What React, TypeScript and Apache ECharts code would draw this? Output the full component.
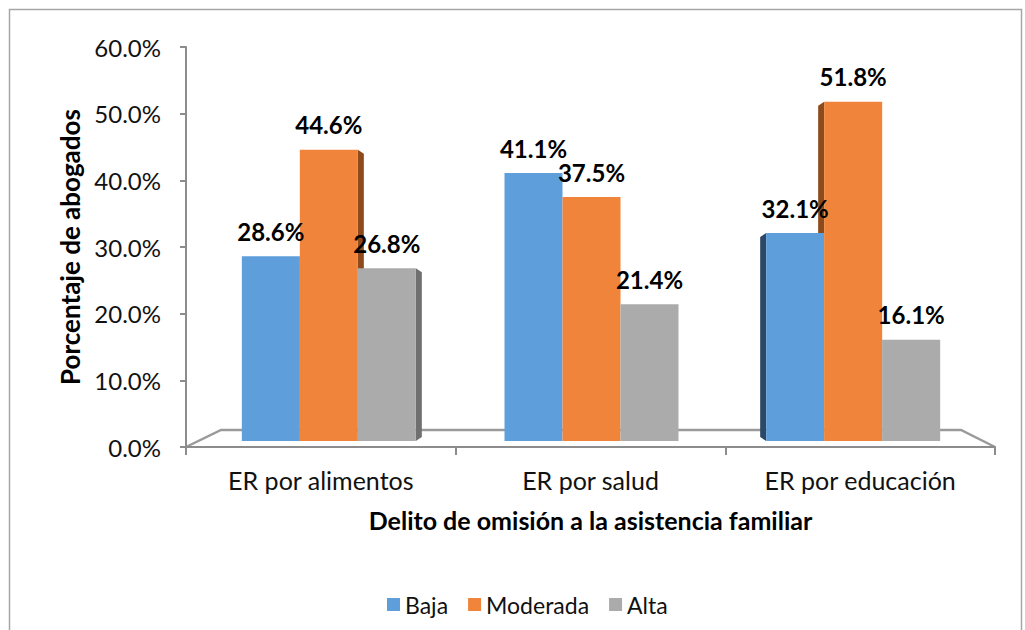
import React, { useEffect, useRef } from "react";
import * as echarts from "echarts";

const categories = ["ER por alimentos", "ER por salud", "ER por educación"];
const seriesNames = ["Baja", "Moderada", "Alta"];
const baja = [28.6, 41.1, 32.1];
const moderada = [44.6, 37.5, 51.8];
const alta = [26.8, 21.4, 16.1];
const yTicks = [0, 10, 20, 30, 40, 50, 60];

const allSeries = [baja, moderada, alta];
const colors = ["#5e9fdb", "#f0843a", "#ababab"];
const sideColors = ["#2b4966", "#8e4a1a", "#6f6f6f"];

const BW = 58;
const GROUP_SHIFT = [8, 1, -7];
const SIDE = 6;
const FONT = "Lato, 'Open Sans', sans-serif";

function barX(catCenterX: number, cat: number, s: number) {
  return catCenterX + GROUP_SHIFT[cat] + (s - 1) * BW - BW / 2;
}

export default function App() {
  const ref = useRef<HTMLDivElement>(null);
  useEffect(() => {
    if (!ref.current) return;
    const chart = echarts.init(ref.current, null, { renderer: "svg" });

    const barSeries = allSeries.map((vals, s) => ({
      type: "custom",
      name: seriesNames[s],
      z: 3,
      itemStyle: { color: colors[s] },
      data: vals.map((v, i) => [i, v]),
      renderItem: (params: any, api: any) => {
        const cat = api.value(0);
        const v = api.value(1);
        const top = api.coord([cat, v]);
        const base = api.coord([cat, 0]);
        const x0 = barX(top[0], cat, s);
        return {
          type: "group",
          children: [
            {
              type: "rect",
              shape: { x: x0, y: top[1], width: BW, height: base[1] - 6 - top[1] },
              style: { fill: colors[s] },
            },
            {
              type: "text",
              z2: 10,
              x: x0 + BW / 2,
              y: top[1] - 13,
              style: {
                text: v.toFixed(1) + "%",
                textAlign: "center",
                textVerticalAlign: "bottom",
                font: "bold 24px " + FONT,
                fill: "#000",
              },
            },
          ],
        };
      },
    }));

    const faceData: number[][] = [];
    allSeries.forEach((vals, s) => vals.forEach((v, i) => faceData.push([i, v, s])));

    const faceSeries = {
      type: "custom",
      name: "faces",
      z: 2,
      silent: true,
      data: faceData,
      renderItem: (params: any, api: any) => {
        const cat = api.value(0);
        const v = api.value(1);
        const s = api.value(2);
        const top = api.coord([cat, v]);
        const base = api.coord([cat, 0]);
        const x0 = barX(top[0], cat, s);
        const yb = base[1] - 6;
        let pts: number[][] | null = null;
        if (cat === 0) {
          const xr = x0 + BW;
          pts = [[xr, top[1]], [xr + SIDE, top[1] + 4], [xr + SIDE, yb - 4], [xr, yb]];
        } else if (cat === 2) {
          pts = [[x0, top[1]], [x0 - SIDE, top[1] + 4], [x0 - SIDE, yb - 4], [x0, yb]];
        }
        if (!pts) return { type: "group", children: [] };
        return { type: "polygon", shape: { points: pts }, style: { fill: sideColors[s] } };
      },
    };

    chart.setOption({
      animation: false,
      backgroundColor: "#fff",
      textStyle: { fontFamily: FONT },
      grid: { left: 186, right: 30, top: 47, bottom: 183, containLabel: false },
      legend: {
        data: seriesNames.map((n, i) => ({ name: n, itemStyle: { color: colors[i] } })),
        left: 382,
        top: 588,
        icon: "rect",
        itemWidth: 13,
        itemHeight: 13,
        itemGap: 20,
        textStyle: { fontSize: 23, color: "#111", fontFamily: FONT },
      },
      xAxis: {
        type: "category",
        data: categories,
        name: "Delito de omisión a la asistencia familiar",
        nameLocation: "middle",
        nameGap: 60,
        nameTextStyle: { fontSize: 25, fontWeight: "bold", color: "#000", fontFamily: FONT },
        axisLine: { show: true, lineStyle: { color: "#8c8c8c", width: 2 } },
        axisTick: { show: true, length: 8, lineStyle: { color: "#8c8c8c", width: 2 } },
        axisLabel: { fontSize: 25, color: "#111", margin: 20, fontFamily: FONT },
        splitLine: { show: false },
      },
      yAxis: {
        type: "value",
        min: 0,
        max: 60,
        interval: 10,
        name: "Porcentaje de abogados",
        nameLocation: "middle",
        nameRotate: 90,
        nameGap: 100,
        nameTextStyle: { fontSize: 26, fontWeight: "bold", color: "#000", fontFamily: FONT },
        axisLine: { show: true, lineStyle: { color: "#8c8c8c", width: 2 } },
        axisTick: { show: true, length: 6, lineStyle: { color: "#8c8c8c", width: 2 } },
        axisLabel: {
          fontSize: 24,
          color: "#111",
          margin: 25,
          fontFamily: FONT,
          formatter: (v: number) => (yTicks.includes(v) ? v.toFixed(1) + "%" : ""),
        },
        splitLine: { show: false },
      },
      graphic: [
        {
          type: "rect",
          shape: { x: 9.5, y: 9.5, width: 1012, height: 640 },
          style: { fill: "none", stroke: "#a6a6a6", lineWidth: 1.5 },
          silent: true,
        },
        {
          type: "polyline",
          shape: { points: [[186, 447], [221, 430], [961, 430], [995, 447]] },
          style: { stroke: "#9a9a9a", lineWidth: 2.5, fill: "none" },
          silent: true,
        },
      ],
      series: [faceSeries, ...barSeries],
    });
    return () => chart.dispose();
  }, []);
  return (
    <div
      ref={ref}
      style={{ position: "fixed", left: 0, top: 0, width: 1025, height: 630, background: "#fff" }}
    />
  );
}
